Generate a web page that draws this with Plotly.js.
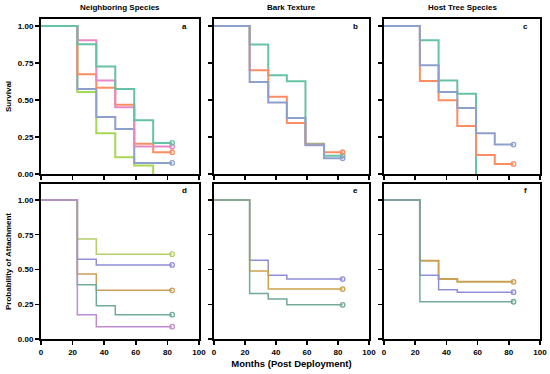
<!DOCTYPE html>
<html>
<head>
<meta charset="utf-8">
<script src="https://cdn.plot.ly/plotly-3.0.1.min.js"></script>
<style>html,body{margin:0;padding:0;background:#fff;}#chart{width:550px;height:374px;}</style>
</head>
<body>
<div id="chart"></div>
<script>
// Time points (months post deployment)
const months = [0, 23, 35, 47, 59, 71, 83];

// Panel a: Survival by neighboring species
const a_teal   = [1, 0.878, 0.726, 0.575, 0.364, 0.210, 0.210];
const a_orange = [1, 0.674, 0.584, 0.468, 0.204, 0.147, 0.147];
const a_blue   = [1, 0.575, 0.385, 0.305, 0.075, 0.075, 0.075];
const a_pink   = [1, 0.905, 0.633, 0.452, 0.186, 0.186, 0.186];
const a_lime   = [1, 0.555, 0.276, 0.113, 0.057, 0];

// Panel b: Survival by bark texture
const b_green  = [1, 0.876, 0.667, 0.627, 0.204, 0.124, 0.124];
const b_orange = [1, 0.701, 0.523, 0.344, 0.199, 0.147, 0.147];
const b_blue   = [1, 0.622, 0.484, 0.378, 0.195, 0.106, 0.106];

// Panel c: Survival by host tree species
const c_teal   = [1, 0.905, 0.633, 0.543, 0];
const c_blue   = [1, 0.735, 0.554, 0.446, 0.276, 0.199, 0.199];
const c_orange = [1, 0.629, 0.498, 0.324, 0.129, 0.068, 0.068];

// Panel d: Probability of attachment by neighboring species
const d_lime   = [1, 0.720, 0.610, 0.610, 0.610, 0.610, 0.610];
const d_purple = [1, 0.574, 0.533, 0.533, 0.533, 0.533, 0.533];
const d_brown  = [1, 0.467, 0.350, 0.350, 0.350, 0.350, 0.350];
const d_teal   = [1, 0.390, 0.239, 0.175, 0.175, 0.175, 0.175];
const d_pink   = [1, 0.175, 0.089, 0.089, 0.089, 0.089, 0.089];

// Panel e: Probability of attachment by bark texture
const e_purple = [1, 0.567, 0.459, 0.431, 0.431, 0.431, 0.431];
const e_brown  = [1, 0.490, 0.359, 0.359, 0.359, 0.359, 0.359];
const e_teal   = [1, 0.328, 0.287, 0.246, 0.246, 0.246, 0.246];

// Panel f: Probability of attachment by host tree species
const f_gold   = [1, 0.562, 0.431, 0.411, 0.411, 0.411, 0.411];
const f_purple = [1, 0.459, 0.354, 0.337, 0.337, 0.337, 0.337];
const f_teal   = [1, 0.268, 0.268, 0.268, 0.268, 0.268, 0.268];

const colTitles = ["Neighboring Species", "Bark Texture", "Host Tree Species"];
const rowTitles = ["Survival", "Probability of Attachment"];
const xTitle = "Months (Post Deployment)";
const panelLetters = ["a", "b", "c", "d", "e", "f"];
const yTicks = [0, 0.25, 0.5, 0.75, 1];
const xTicks = [0, 20, 40, 60, 80, 100];

const traces = [];
function addSeries(vals, color, ax, width) {
  const xs = months.slice(0, vals.length);
  traces.push({x: xs, y: vals, type: 'scatter', mode: 'lines', line: {shape: 'hv', color: color, width: width},
    xaxis: 'x' + ax, yaxis: 'y' + ax, hoverinfo: 'skip', showlegend: false});
  const lastY = vals[vals.length - 1];
  if (lastY > 0) {
    traces.push({x: [xs[xs.length - 1]], y: [lastY], type: 'scatter', mode: 'markers',
      marker: {symbol: 'circle-open', size: 4.5, color: color, line: {width: 1.3, color: color}},
      xaxis: 'x' + ax, yaxis: 'y' + ax, hoverinfo: 'skip', showlegend: false});
  }
}
const TW = 2, BW = 1.5;
addSeries(a_lime, '#a6d854', '', TW);
addSeries(a_blue, '#8da0cb', '', TW);
addSeries(a_orange, '#fc8d62', '', TW);
addSeries(a_pink, '#e78ac3', '', TW);
addSeries(a_teal, '#66c2a5', '', TW);

addSeries(b_green, '#66c2a5', '2', TW);
addSeries(b_orange, '#fc8d62', '2', TW);
addSeries(b_blue, '#8da0cb', '2', TW);

addSeries(c_teal, '#66c2a5', '3', TW);
addSeries(c_orange, '#fc8d62', '3', TW);
addSeries(c_blue, '#8da0cb', '3', TW);

addSeries(d_lime, '#b5d06a', '4', BW);
addSeries(d_purple, '#8e8fd6', '4', BW);
addSeries(d_brown, '#cc9e55', '4', BW);
addSeries(d_teal, '#72a99a', '4', BW);
addSeries(d_pink, '#c08ccf', '4', BW);

addSeries(e_purple, '#8e8fd6', '5', BW);
addSeries(e_brown, '#cfa24c', '5', BW);
addSeries(e_teal, '#72a99a', '5', BW);

addSeries(f_gold, '#c9a050', '6', TW);
addSeries(f_purple, '#8e8fd6', '6', BW);
addSeries(f_teal, '#72a99a', '6', BW);

const W = 550, H = 374;
const FAM = 'Liberation Sans, Arial, sans-serif';
const xDom = [[41/W, 199/W], [214/W, 369/W], [384/W, 540/W]];
const yDomTop = [1 - 174/H, 1 - 19/H];
const yDomBot = [1 - 339/H, 1 - 184/H];
const tickFont = {family: FAM, size: 8, color: '#000', weight: 'bold'};
const titleFont = {family: FAM, size: 8, color: '#000', weight: 'bold'};

const layout = {width: W, height: H, margin: {l: 0, r: 0, t: 0, b: 0},
  paper_bgcolor: '#fff', plot_bgcolor: '#fff', showlegend: false, annotations: []};

for (let i = 0; i < 6; i++) {
  const sfx = i === 0 ? '' : String(i + 1);
  const col = i % 3, top = i < 3;
  layout['xaxis' + sfx] = {domain: xDom[col], range: [0, 100], tickvals: xTicks, showticklabels: !top,
    anchor: 'y' + sfx, showline: true, mirror: true, linecolor: '#000', linewidth: 2,
    ticks: 'outside', ticklen: 4, tickwidth: 1.5, tickcolor: '#000', showgrid: false, zeroline: false,
    tickfont: tickFont, fixedrange: true};
  layout['yaxis' + sfx] = {domain: top ? yDomTop : yDomBot, range: top ? [0, 1.048] : [0, 1.115],
    tickvals: yTicks, tickformat: '.2f', showticklabels: col === 0,
    anchor: 'x' + sfx, showline: true, mirror: true, linecolor: '#000', linewidth: 2,
    ticks: 'outside', ticklen: 4, tickwidth: 1.5, tickcolor: '#000', showgrid: false, zeroline: false,
    tickfont: tickFont, fixedrange: true};
  if (col === 0) {
    layout['yaxis' + sfx].title = {text: rowTitles[top ? 0 : 1], font: titleFont, standoff: 5};
  }
  if (i === 4) {
    layout['xaxis' + sfx].title = {text: xTitle, standoff: 5,
      font: {family: FAM, size: 9.5, color: '#000', weight: 'bold'}};
  }
  layout.annotations.push({text: panelLetters[i], xref: 'x' + sfx + ' domain', yref: 'y' + sfx + ' domain',
    x: 0.91, y: top ? 0.95 : 0.955, xanchor: 'center', yanchor: 'middle', showarrow: false,
    font: {family: FAM, size: 8, color: '#000', weight: 'bold'}});
}
for (let c = 0; c < 3; c++) {
  layout.annotations.push({text: colTitles[c], xref: 'paper', yref: 'paper',
    x: (xDom[c][0] + xDom[c][1]) / 2, y: 1 - 8/H, xanchor: 'center', yanchor: 'middle', showarrow: false,
    font: titleFont});
}

Plotly.newPlot('chart', traces, layout, {staticPlot: true, displayModeBar: false});
</script>
</body>
</html>
